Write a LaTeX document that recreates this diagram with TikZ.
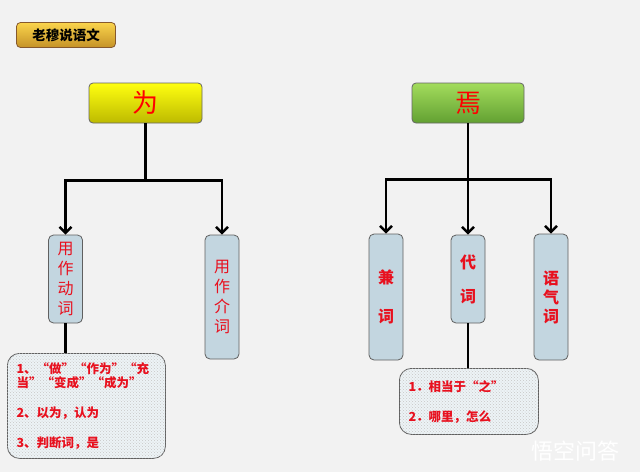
\documentclass[tikz,border=0pt]{standalone}
\usepackage{fontspec}
\setmainfont{Noto Sans CJK SC}
\usetikzlibrary{arrows.meta, calc, patterns}

\definecolor{bgGray}{HTML}{F2F2F2}
\definecolor{boxBlue}{HTML}{C3D6E0}
\definecolor{wordRed}{HTML}{E8101E}
\definecolor{goldTop}{HTML}{FAD44C}
\definecolor{goldBot}{HTML}{C59227}
\definecolor{yelTop}{HTML}{FFFF10}
\definecolor{yelBot}{HTML}{BDBA00}
\definecolor{grnTop}{HTML}{A3DC5C}
\definecolor{grnBot}{HTML}{62A032}

\begin{document}
\begin{tikzpicture}[x=1pt, y=-1pt,
    topbox/.style={draw=gray!80!black, rounded corners=4pt, line width=0.8pt,
        minimum width=113pt, minimum height=40pt, text=red, font=\fontsize{26}{26}\selectfont},
    wordbox/.style={draw=gray!75!black, fill=boxBlue, rounded corners=5pt, line width=0.8pt,
        minimum width=34pt, text=wordRed, font=\fontsize{16}{20}\selectfont, align=center},
    notebox/.style={draw=gray!75!black, fill=boxBlue!30, rounded corners=12pt, line width=0.8pt,
        postaction={pattern=crosshatch dots, pattern color=gray!45},
        anchor=north west, inner sep=0pt},
    notetext/.style={text=wordRed, font=\bfseries\fontsize{12.5}{14}\selectfont, anchor=west},
    link/.style={line width=2.6pt},
    arrow/.style={line width=2.6pt, -{Straight Barb[length=6pt, width=12pt, line width=2.4pt]}}
]
    % Background
    \fill[bgGray] (0,0) rectangle (640,472);
    \useasboundingbox (0,0) rectangle (640,472);

    % Title box
    \node[draw=brown!70!black, rounded corners=4pt, line width=0.8pt,
        top color=goldTop, bottom color=goldBot,
        minimum width=99pt, minimum height=25pt,
        font=\bfseries\fontsize{13.5}{13.5}\selectfont] (title) at (66,35) {老穆说语文};

    % Head words
    \node[topbox, top color=yelTop, bottom color=yelBot] (wei) at (145.5,103) {为};
    \node[topbox, top color=grnTop, bottom color=grnBot, minimum width=112pt] (yan) at (468,103) {焉};

    % Word boxes
    \node[wordbox, minimum height=88pt] (dongci) at (65.5,279) {用\\作\\动\\词};
    \node[wordbox, minimum height=124pt] (jieci) at (222,297) {用\\作\\介\\词};
    \node[wordbox, minimum height=126pt, font=\bfseries\fontsize{16}{39}\selectfont] (jianci) at (386,297) {兼\\词};
    \node[wordbox, minimum height=88pt, font=\bfseries\fontsize{16}{34}\selectfont] (daici) at (468,279) {代\\词};
    \node[wordbox, minimum height=126pt, font=\bfseries\fontsize{16}{19}\selectfont] (yuqici) at (551,297) {语\\气\\词};

    % Note boxes
    \node[notebox, minimum width=158pt, minimum height=105pt] (note1) at (7,353) {};
    \node[notebox, minimum width=139pt, minimum height=66pt] (note2) at (399,368) {};
    \node[notetext] (note1a) at (13,369) {1、“做”“作为”“充};
    \node[notetext] (note1b) at (13,383) {当”“变成”“成为”};
    \node[notetext] (note1c) at (13,413) {2、以为，认为};
    \node[notetext] (note1d) at (13,443) {3、判断词，是};
    \node[notetext] (note2a) at (405,387) {1．相当于“之”};
    \node[notetext] (note2b) at (405,417) {2．哪里，怎么};

    % Connectors
    \coordinate (weiJ) at ($(wei.south)+(0,57)$);
    \coordinate (yanJ) at ($(yan.south)+(0,56)$);
    \draw[link] (wei.south) -- (weiJ);
    \foreach \n in {dongci, jieci}
    {
        \draw[arrow] (weiJ) -| (\n.north);
    }
    \draw[link] (yan.south) -- (yanJ);
    \foreach \n in {jianci, daici, yuqici}
    {
        \draw[arrow] (yanJ) -| (\n.north);
    }
    \draw[link] (dongci.south) -- (dongci.south |- note1.north);
    \draw[link] (daici.south) -- (daici.south |- note2.north);

    % Watermark
    \node[text=white, font=\fontsize{22}{22}\selectfont] (mark) at (575,451) {悟空问答};
\end{tikzpicture}
\end{document}
